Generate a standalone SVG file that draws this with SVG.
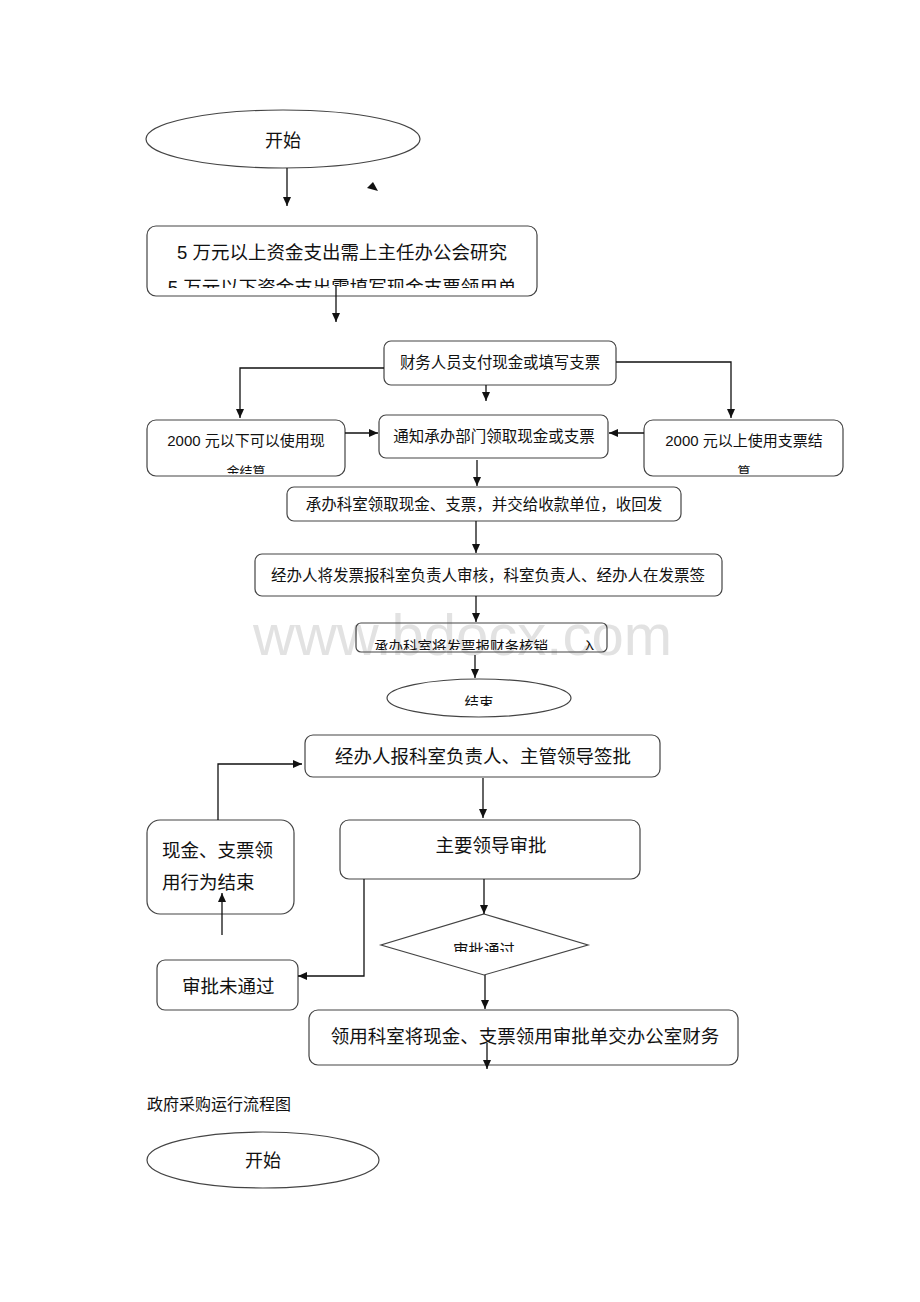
<svg xmlns="http://www.w3.org/2000/svg" width="920" height="1302" viewBox="0 0 920 1302">
<style>
text{font-family:"Liberation Sans","Noto Sans CJK SC",sans-serif;fill:#111}
.box{fill:#fff;stroke:#444;stroke-width:1.2}
.ln{fill:none;stroke:#111;stroke-width:1.3}
.c{text-anchor:middle}
.wm{font-family:"Liberation Sans","DejaVu Sans",sans-serif;fill:#e2e2e2;font-size:58px}
</style>
<defs>
<marker id="ah" markerWidth="10" markerHeight="10" refX="9" refY="5" orient="auto" markerUnits="userSpaceOnUse">
<path d="M0,1 L9,5 L0,9 Z" fill="#111"/>
</marker>
<clipPath id="cp1"><rect x="147" y="260" width="390" height="28"/></clipPath>
<clipPath id="cp2"><rect x="147" y="450" width="198" height="24"/></clipPath>
<clipPath id="cp3"><rect x="644" y="450" width="199" height="24"/></clipPath>
<clipPath id="cp4"><rect x="356" y="625" width="251" height="25"/></clipPath>
<clipPath id="cp5"><rect x="387" y="680" width="184" height="26"/></clipPath>
<clipPath id="cp6"><rect x="381" y="920" width="207" height="32"/></clipPath>
</defs>

<text class="wm" x="253" y="655">www.bdocx.com</text>

<g id="start1">
<ellipse cx="283" cy="139" rx="137" ry="29" class="box"/>
<text class="c" x="283" y="147" font-size="18">开始</text>
</g>
<g id="n1">
<rect x="147" y="226" width="390" height="70" rx="9" class="box"/>
<text class="c" x="342" y="259" font-size="18.5">5 万元以上资金支出需上主任办公会研究</text>
<text class="c" x="342" y="294" font-size="18.5" clip-path="url(#cp1)">5 万元以下资金支出需填写现金支票领用单</text>
</g>
<g id="n2">
<rect x="384" y="341" width="232" height="44" rx="7" class="box"/>
<text class="c" x="500" y="368" font-size="15.4">财务人员支付现金或填写支票</text>
</g>
<g id="n3">
<rect x="147" y="420" width="198" height="56" rx="9" class="box"/>
<text class="c" x="246" y="446" font-size="15">2000 元以下可以使用现</text>
<text class="c" x="246" y="476" font-size="13" clip-path="url(#cp2)">金结算</text>
</g>
<g id="n4">
<rect x="379" y="415" width="229" height="43" rx="7" class="box"/>
<text class="c" x="494" y="442" font-size="15.5">通知承办部门领取现金或支票</text>
</g>
<g id="n5">
<rect x="644" y="420" width="199" height="56" rx="9" class="box"/>
<text class="c" x="744" y="446" font-size="15">2000 元以上使用支票结</text>
<text class="c" x="744" y="476" font-size="13" clip-path="url(#cp3)">算</text>
</g>
<g id="n6">
<rect x="287" y="487" width="394" height="34" rx="7" class="box"/>
<text class="c" x="484" y="510" font-size="15.5">承办科室领取现金、支票，并交给收款单位，收回发</text>
</g>
<g id="n7">
<rect x="255" y="554" width="467" height="42" rx="7" class="box"/>
<text class="c" x="488" y="581" font-size="15.5">经办人将发票报科室负责人审核，科室负责人、经办人在发票签</text>
</g>
<g id="n8">
<rect x="356" y="623" width="251" height="29" rx="5" fill="none" stroke="#444" stroke-width="1.2"/>
<text x="374" y="652" font-size="14.5" clip-path="url(#cp4)">承办科室将发票报财务核销</text>
<text x="582" y="652" font-size="14.5" clip-path="url(#cp4)">入</text>
</g>
<g id="end1">
<ellipse cx="479" cy="698" rx="92" ry="19" class="box"/>
<text class="c" x="479" y="708" font-size="14.5" clip-path="url(#cp5)">结束</text>
</g>

<g id="a1">
<rect x="305" y="735" width="355" height="42" rx="8" class="box"/>
<text class="c" x="483" y="763" font-size="18.5">经办人报科室负责人、主管领导签批</text>
</g>
<g id="a2">
<rect x="340" y="820" width="300" height="59" rx="9" class="box"/>
<text class="c" x="491" y="852" font-size="18.5">主要领导审批</text>
</g>
<g id="a3">
<rect x="147" y="820" width="147" height="94" rx="13" class="box"/>
<text x="162" y="857" font-size="18.5">现金、支票领</text>
<text x="162" y="889" font-size="18.5">用行为结束</text>
</g>
<g id="a4">
<polygon points="484,914 588,945 484,975 381,945" class="box"/>
<text class="c" x="484" y="956" font-size="15.5" clip-path="url(#cp6)">审批通过</text>
</g>
<g id="a5">
<rect x="157" y="960" width="141" height="50" rx="8" class="box"/>
<text x="182" y="993" font-size="18.5">审批未通过</text>
</g>
<g id="a6">
<rect x="309" y="1010" width="429" height="55" rx="9" class="box"/>
<text class="c" x="525" y="1043" font-size="18.5">领用科室将现金、支票领用审批单交办公室财务</text>
</g>

<text x="147" y="1110" font-size="16" style="font-family:'Liberation Serif','Noto Sans CJK SC',serif">政府采购运行流程图</text>

<g id="start2">
<ellipse cx="263" cy="1160" rx="116" ry="28" class="box"/>
<text class="c" x="263" y="1167" font-size="18">开始</text>
</g>

<g id="connectors">
<line x1="287" y1="168" x2="287" y2="206" class="ln" marker-end="url(#ah)"/>
<polygon points="367,188 373,182 378,191" fill="#111"/>
<line x1="336" y1="286" x2="336" y2="322" class="ln" marker-end="url(#ah)"/>
<polyline points="384,368 240,368 240,418" class="ln" marker-end="url(#ah)"/>
<polyline points="616,362 731,362 731,418" class="ln" stroke="#888" marker-end="url(#ah)"/>
<line x1="486" y1="385" x2="486" y2="401" class="ln" marker-end="url(#ah)"/>
<line x1="345" y1="433" x2="378" y2="433" class="ln" marker-end="url(#ah)"/>
<line x1="644" y1="433" x2="609" y2="433" class="ln" marker-end="url(#ah)"/>
<line x1="477" y1="460" x2="477" y2="486" class="ln" marker-end="url(#ah)"/>
<line x1="476" y1="521" x2="476" y2="553" class="ln" marker-end="url(#ah)"/>
<line x1="476" y1="596" x2="476" y2="622" class="ln" marker-end="url(#ah)"/>
<line x1="475" y1="655" x2="475" y2="678" class="ln" marker-end="url(#ah)"/>
<polyline points="218,820 218,764 302,764" class="ln" marker-end="url(#ah)"/>
<line x1="483" y1="778" x2="483" y2="818" class="ln" marker-end="url(#ah)"/>
<line x1="222" y1="935" x2="222" y2="893" class="ln" marker-end="url(#ah)"/>
<polyline points="364,879 364,976 298,976" class="ln" marker-end="url(#ah)"/>
<line x1="484" y1="879" x2="484" y2="914" class="ln" marker-end="url(#ah)"/>
<line x1="485" y1="975" x2="485" y2="1009" class="ln" marker-end="url(#ah)"/>
<line x1="487" y1="1043" x2="487" y2="1069" class="ln" marker-end="url(#ah)"/>
</g>
</svg>
